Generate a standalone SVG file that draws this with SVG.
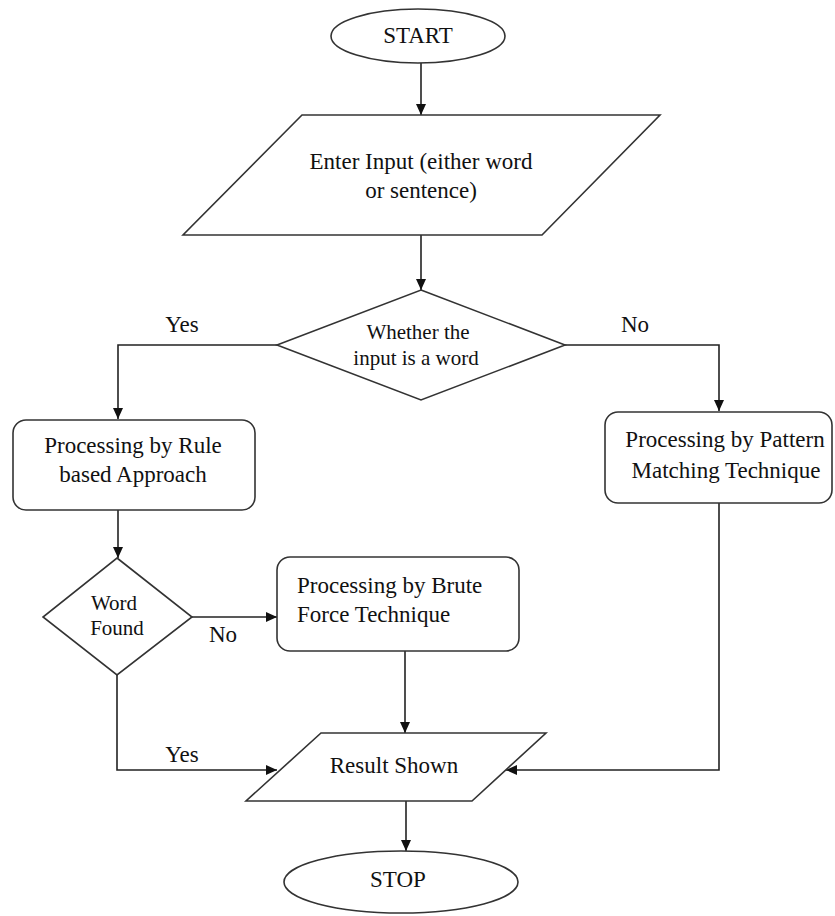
<svg xmlns="http://www.w3.org/2000/svg" width="835" height="916" viewBox="0 0 835 916">
<defs>
<marker id="ah" markerUnits="userSpaceOnUse" markerWidth="11" markerHeight="10" refX="11" refY="5" orient="auto">
<path d="M0,0 L11,5 L0,10 z" fill="#111"/>
</marker>
<style>
.shape{fill:#fff;stroke:#333;stroke-width:1.6}
.conn{fill:none;stroke:#222;stroke-width:1.6}
.t{font-family:"Liberation Serif","Times New Roman",serif;font-size:23px;fill:#111}
.c{text-anchor:middle}
.s{font-size:21px}
</style>
</defs>
<rect width="835" height="916" fill="#fff"/>
<g id="connectors">
<path class="conn" d="M421,63 L421,115" marker-end="url(#ah)"/>
<path class="conn" d="M421,235 L421,290" marker-end="url(#ah)"/>
<path class="conn" d="M277,345 L118,345 L118,419" marker-end="url(#ah)"/>
<path class="conn" d="M565,345 L719,345 L719,411" marker-end="url(#ah)"/>
<path class="conn" d="M118,510 L118,558" marker-end="url(#ah)"/>
<path class="conn" d="M192,617 L277,617" marker-end="url(#ah)"/>
<path class="conn" d="M117,675 L117,770 L277,770" marker-end="url(#ah)"/>
<path class="conn" d="M405,651 L405,733" marker-end="url(#ah)"/>
<path class="conn" d="M719,503 L719,770 L506,770" marker-end="url(#ah)"/>
<path class="conn" d="M406,801 L406,851" marker-end="url(#ah)"/>
<text class="t c" x="182" y="332">Yes</text>
<text class="t c" x="635" y="332">No</text>
<text class="t c" x="223" y="642">No</text>
<text class="t c" x="182" y="762">Yes</text>
</g>
<g id="start">
<ellipse class="shape" cx="418" cy="36" rx="87" ry="27"/>
<text class="t c" x="418" y="43">START</text>
</g>
<g id="input">
<polygon class="shape" points="302,115 660,115 542,235 183,235"/>
<text class="t c" x="421" y="169">Enter Input (either word</text>
<text class="t c" x="421" y="198">or sentence)</text>
</g>
<g id="decision-word">
<polygon class="shape" points="421,290 565,345 421,400 277,345"/>
<text class="t c s" x="418" y="339">Whether the</text>
<text class="t c s" x="416" y="365">input is a word</text>
</g>
<g id="rule-based">
<rect class="shape" x="13" y="420" width="242" height="90" rx="13"/>
<text class="t c" x="133" y="453">Processing by Rule</text>
<text class="t c" x="133" y="482">based Approach</text>
</g>
<g id="pattern-matching">
<rect class="shape" x="605" y="412" width="227" height="91" rx="13"/>
<text class="t c" x="725" y="447">Processing by Pattern</text>
<text class="t c" x="726" y="478">Matching Technique</text>
</g>
<g id="word-found">
<polygon class="shape" points="117,558 192,617 117,675 43,617"/>
<text class="t c s" x="114" y="610">Word</text>
<text class="t c s" x="117" y="635">Found</text>
</g>
<g id="brute-force">
<rect class="shape" x="277" y="557" width="242" height="94" rx="13"/>
<text class="t" x="297" y="593">Processing by Brute</text>
<text class="t" x="297" y="622">Force Technique</text>
</g>
<g id="result">
<polygon class="shape" points="321,733 546,733 472,801 246,801"/>
<text class="t c" x="394" y="773">Result Shown</text>
</g>
<g id="stop">
<ellipse class="shape" cx="401" cy="882" rx="117" ry="31"/>
<text class="t c" x="398" y="887">STOP</text>
</g>
</svg>
